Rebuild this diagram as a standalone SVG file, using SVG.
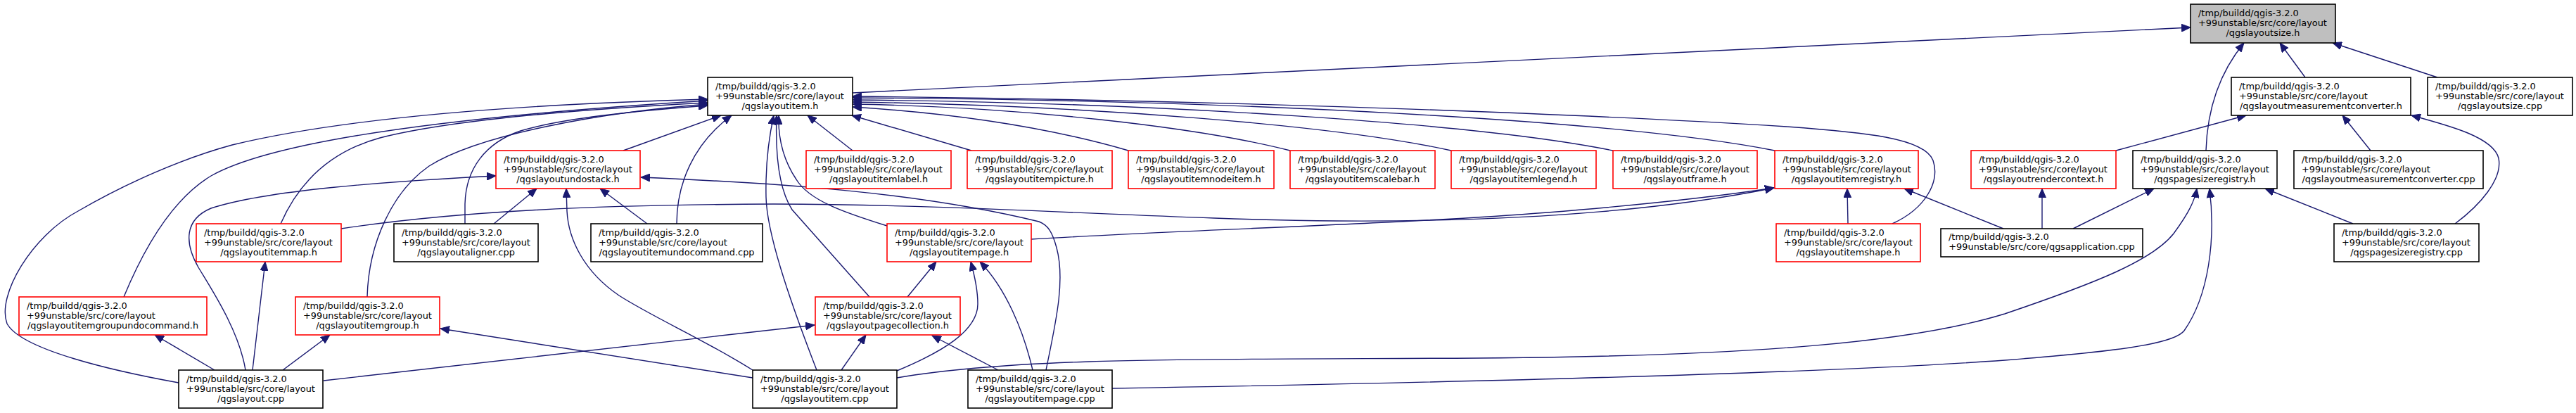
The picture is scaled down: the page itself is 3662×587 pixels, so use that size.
<svg xmlns="http://www.w3.org/2000/svg" width="3662" height="587" viewBox="0 0 3662 587">
<style>
.bg{fill:#ffffff}
.n rect{fill:#ffffff;stroke:#000000;stroke-width:1.6}
.n.red rect{stroke:#ff0000}
.n.cur rect{fill:#bfbfbf}
.n text{font-family:"DejaVu Sans","Liberation Sans",sans-serif;font-size:12.9px;fill:#000000}
.n text.c{text-anchor:middle}
#edges path{fill:none;stroke:#191970;stroke-width:1.4;marker-end:url(#ah)}
</style>
<defs>
<marker id="ah" markerUnits="userSpaceOnUse" markerWidth="14" markerHeight="11" refX="13" refY="5.5" orient="auto">
<path d="M0,0 L13,5.5 L0,11 z" fill="#191970" stroke="#191970" stroke-width="1"/>
</marker>
</defs>
<rect class="bg" x="0" y="0" width="3662" height="587"/>
<g id="edges">
<path d="M1212,132 L3114,39"/>
<path d="M3277,110 L3241,61"/>
<path d="M3465,110 L3316,61"/>
<path d="M3136,214 C3138,150 3158,100 3190,61"/>
<path d="M3008,214 L3193,164"/>
<path d="M3370,214 L3330,164"/>
<path d="M3490,318 C3525,292 3558,255 3552,225 C3545,195 3480,178 3428,164"/>
<path d="M886,214 L1025,164"/>
<path d="M962,318 C962,262 985,205 1040,164"/>
<path d="M1212,214 L1148,164"/>
<path d="M1381,214 L1211,164"/>
<path d="M1604,214 C1480,178 1340,160 1212,152"/>
<path d="M1834,214 C1700,180 1450,152 1212,148"/>
<path d="M2063,214 C1900,178 1550,150 1212,145"/>
<path d="M2293,214 C2100,175 1650,146 1212,142"/>
<path d="M2523,214 C2300,170 1750,142 1212,139"/>
<path d="M2690,318 C2738,296 2758,258 2748,228 C2736,196 2650,188 2540,180 C2300,165 1800,143 1212,137"/>
<path d="M254,544 C160,527 30,497 10,460 C-5,420 45,335 111,300 C180,260 260,225 330,206 C500,165 750,148 1006,141"/>
<path d="M176,422 C210,340 250,280 300,250 C380,205 600,168 1006,143"/>
<path d="M399,318 C420,270 460,218 540,196 C650,168 850,154 1006,146"/>
<path d="M522,422 C524,345 558,272 610,236 C680,192 850,160 1006,148"/>
<path d="M661,318 L661,290 C662,240 690,203 740,186 C800,168 900,158 1006,150"/>
<path d="M1161,526 C1120,420 1090,330 1089,280 C1088,230 1093,195 1100,164"/>
<path d="M1236,422 L1126,298 C1108,270 1102,220 1104,164"/>
<path d="M1261,321 C1200,302 1150,285 1132,255 C1112,225 1106,195 1107,164"/>
<path d="M349,526 C340,470 300,410 282,380 C262,345 262,312 300,296 C380,270 550,258 705,250"/>
<path d="M702,318 L763,268"/>
<path d="M1070,526 C1000,482 930,452 880,420 C830,386 808,340 806,300 L805,268"/>
<path d="M920,318 L853,268"/>
<path d="M1487,526 C1500,462 1515,400 1502,352 C1496,330 1490,320 1477,315 C1300,272 1100,260 911,252"/>
<path d="M485,325 C650,300 850,291 1100,290 C1400,291 1650,312 1900,314 C2200,316 2400,292 2522,267"/>
<path d="M1466,340 C1700,326 2000,318 2200,302 C2350,290 2450,278 2522,267"/>
<path d="M2627,318 L2626,268"/>
<path d="M2848,325 L2707,268"/>
<path d="M2903,325 L2903,268"/>
<path d="M2947,325 L3062,268"/>
<path d="M1275,537 C1450,507 1700,511 2100,509 C2500,506 2720,486 2850,446 C2980,402 3060,370 3090,332 C3112,302 3120,285 3123,268"/>
<path d="M1581,552 C2100,543 2600,530 2850,512 C3000,500 3090,490 3105,470 C3140,420 3150,340 3141,268"/>
<path d="M3345,318 L3220,268"/>
<path d="M1196,526 L1231,476"/>
<path d="M1419,526 L1325,477"/>
<path d="M460,541 L1158,462"/>
<path d="M1290,422 L1331,372"/>
<path d="M1275,527 C1340,500 1390,470 1390,432 C1390,410 1385,390 1380,372"/>
<path d="M1468,526 C1455,470 1430,410 1393,372"/>
<path d="M402,526 L469,476"/>
<path d="M1070,537 L626,467"/>
<path d="M305,526 L220,476"/>
<path d="M359,526 L377,372"/>
</g>
<g id="node-size-h" class="n cur"><rect x="3114" y="6" width="206" height="55"/><text x="3125" y="23">/tmp/buildd/qgis-3.2.0</text><text x="3125" y="37">+99unstable/src/core/layout</text><text class="c" x="3217" y="51">/qgslayoutsize.h</text></g>
<g id="node-item-h" class="n"><rect x="1006" y="110" width="206" height="54"/><text x="1017" y="127">/tmp/buildd/qgis-3.2.0</text><text x="1017" y="141">+99unstable/src/core/layout</text><text class="c" x="1109" y="155">/qgslayoutitem.h</text></g>
<g id="node-mconv-h" class="n"><rect x="3172" y="110" width="255" height="54"/><text x="3183" y="127">/tmp/buildd/qgis-3.2.0</text><text x="3183" y="141">+99unstable/src/core/layout</text><text class="c" x="3299.5" y="155">/qgslayoutmeasurementconverter.h</text></g>
<g id="node-size-cpp" class="n"><rect x="3451" y="110" width="206" height="54"/><text x="3462" y="127">/tmp/buildd/qgis-3.2.0</text><text x="3462" y="141">+99unstable/src/core/layout</text><text class="c" x="3554" y="155">/qgslayoutsize.cpp</text></g>
<g id="node-undostack-h" class="n red"><rect x="705" y="214" width="205" height="54"/><text x="716" y="231">/tmp/buildd/qgis-3.2.0</text><text x="716" y="245">+99unstable/src/core/layout</text><text class="c" x="807.5" y="259">/qgslayoutundostack.h</text></g>
<g id="node-label-h" class="n red"><rect x="1146" y="214" width="206" height="54"/><text x="1157" y="231">/tmp/buildd/qgis-3.2.0</text><text x="1157" y="245">+99unstable/src/core/layout</text><text class="c" x="1249" y="259">/qgslayoutitemlabel.h</text></g>
<g id="node-picture-h" class="n red"><rect x="1375" y="214" width="206" height="54"/><text x="1386" y="231">/tmp/buildd/qgis-3.2.0</text><text x="1386" y="245">+99unstable/src/core/layout</text><text class="c" x="1478" y="259">/qgslayoutitempicture.h</text></g>
<g id="node-nodeitem-h" class="n red"><rect x="1604" y="214" width="207" height="54"/><text x="1615" y="231">/tmp/buildd/qgis-3.2.0</text><text x="1615" y="245">+99unstable/src/core/layout</text><text class="c" x="1707.5" y="259">/qgslayoutitemnodeitem.h</text></g>
<g id="node-scalebar-h" class="n red"><rect x="1834" y="214" width="206" height="54"/><text x="1845" y="231">/tmp/buildd/qgis-3.2.0</text><text x="1845" y="245">+99unstable/src/core/layout</text><text class="c" x="1937" y="259">/qgslayoutitemscalebar.h</text></g>
<g id="node-legend-h" class="n red"><rect x="2063" y="214" width="206" height="54"/><text x="2074" y="231">/tmp/buildd/qgis-3.2.0</text><text x="2074" y="245">+99unstable/src/core/layout</text><text class="c" x="2166" y="259">/qgslayoutitemlegend.h</text></g>
<g id="node-frame-h" class="n red"><rect x="2293" y="214" width="205" height="54"/><text x="2304" y="231">/tmp/buildd/qgis-3.2.0</text><text x="2304" y="245">+99unstable/src/core/layout</text><text class="c" x="2395.5" y="259">/qgslayoutframe.h</text></g>
<g id="node-registry-h" class="n red"><rect x="2523" y="214" width="204" height="54"/><text x="2534" y="231">/tmp/buildd/qgis-3.2.0</text><text x="2534" y="245">+99unstable/src/core/layout</text><text class="c" x="2625" y="259">/qgslayoutitemregistry.h</text></g>
<g id="node-render-h" class="n red"><rect x="2802" y="214" width="206" height="54"/><text x="2813" y="231">/tmp/buildd/qgis-3.2.0</text><text x="2813" y="245">+99unstable/src/core/layout</text><text class="c" x="2905" y="259">/qgslayoutrendercontext.h</text></g>
<g id="node-psreg-h" class="n"><rect x="3032" y="214" width="205" height="54"/><text x="3043" y="231">/tmp/buildd/qgis-3.2.0</text><text x="3043" y="245">+99unstable/src/core/layout</text><text class="c" x="3134.5" y="259">/qgspagesizeregistry.h</text></g>
<g id="node-mconv-cpp" class="n"><rect x="3261" y="214" width="269" height="54"/><text x="3272" y="231">/tmp/buildd/qgis-3.2.0</text><text x="3272" y="245">+99unstable/src/core/layout</text><text class="c" x="3395.5" y="259">/qgslayoutmeasurementconverter.cpp</text></g>
<g id="node-itemmap-h" class="n red"><rect x="279" y="318" width="206" height="54"/><text x="290" y="335">/tmp/buildd/qgis-3.2.0</text><text x="290" y="349">+99unstable/src/core/layout</text><text class="c" x="382" y="363">/qgslayoutitemmap.h</text></g>
<g id="node-aligner-cpp" class="n"><rect x="560" y="318" width="205" height="54"/><text x="571" y="335">/tmp/buildd/qgis-3.2.0</text><text x="571" y="349">+99unstable/src/core/layout</text><text class="c" x="662.5" y="363">/qgslayoutaligner.cpp</text></g>
<g id="node-undocmd-cpp" class="n"><rect x="840" y="318" width="244" height="54"/><text x="851" y="335">/tmp/buildd/qgis-3.2.0</text><text x="851" y="349">+99unstable/src/core/layout</text><text class="c" x="962" y="363">/qgslayoutitemundocommand.cpp</text></g>
<g id="node-itempage-h" class="n red"><rect x="1261" y="318" width="205" height="54"/><text x="1272" y="335">/tmp/buildd/qgis-3.2.0</text><text x="1272" y="349">+99unstable/src/core/layout</text><text class="c" x="1363.5" y="363">/qgslayoutitempage.h</text></g>
<g id="node-itemshape-h" class="n red"><rect x="2525" y="318" width="205" height="54"/><text x="2536" y="335">/tmp/buildd/qgis-3.2.0</text><text x="2536" y="349">+99unstable/src/core/layout</text><text class="c" x="2627.5" y="363">/qgslayoutitemshape.h</text></g>
<g id="node-app-cpp" class="n"><rect x="2759" y="325" width="287" height="40"/><text x="2770" y="341">/tmp/buildd/qgis-3.2.0</text><text class="c" x="2902.5" y="355">+99unstable/src/core/qgsapplication.cpp</text></g>
<g id="node-psreg-cpp" class="n"><rect x="3318" y="318" width="206" height="54"/><text x="3329" y="335">/tmp/buildd/qgis-3.2.0</text><text x="3329" y="349">+99unstable/src/core/layout</text><text class="c" x="3421" y="363">/qgspagesizeregistry.cpp</text></g>
<g id="node-grpundo-h" class="n red"><rect x="27" y="422" width="267" height="54"/><text x="38" y="439">/tmp/buildd/qgis-3.2.0</text><text x="38" y="453">+99unstable/src/core/layout</text><text class="c" x="160.5" y="467">/qgslayoutitemgroupundocommand.h</text></g>
<g id="node-itemgroup-h" class="n red"><rect x="420" y="422" width="205" height="54"/><text x="431" y="439">/tmp/buildd/qgis-3.2.0</text><text x="431" y="453">+99unstable/src/core/layout</text><text class="c" x="522.5" y="467">/qgslayoutitemgroup.h</text></g>
<g id="node-pagecoll-h" class="n red"><rect x="1159" y="422" width="206" height="54"/><text x="1170" y="439">/tmp/buildd/qgis-3.2.0</text><text x="1170" y="453">+99unstable/src/core/layout</text><text class="c" x="1262" y="467">/qgslayoutpagecollection.h</text></g>
<g id="node-layout-cpp" class="n"><rect x="254" y="526" width="205" height="54"/><text x="265" y="543">/tmp/buildd/qgis-3.2.0</text><text x="265" y="557">+99unstable/src/core/layout</text><text class="c" x="356.5" y="571">/qgslayout.cpp</text></g>
<g id="node-item-cpp" class="n"><rect x="1070" y="526" width="205" height="54"/><text x="1081" y="543">/tmp/buildd/qgis-3.2.0</text><text x="1081" y="557">+99unstable/src/core/layout</text><text class="c" x="1172.5" y="571">/qgslayoutitem.cpp</text></g>
<g id="node-itempage-cpp" class="n"><rect x="1376" y="526" width="205" height="54"/><text x="1387" y="543">/tmp/buildd/qgis-3.2.0</text><text x="1387" y="557">+99unstable/src/core/layout</text><text class="c" x="1478.5" y="571">/qgslayoutitempage.cpp</text></g>
</svg>
